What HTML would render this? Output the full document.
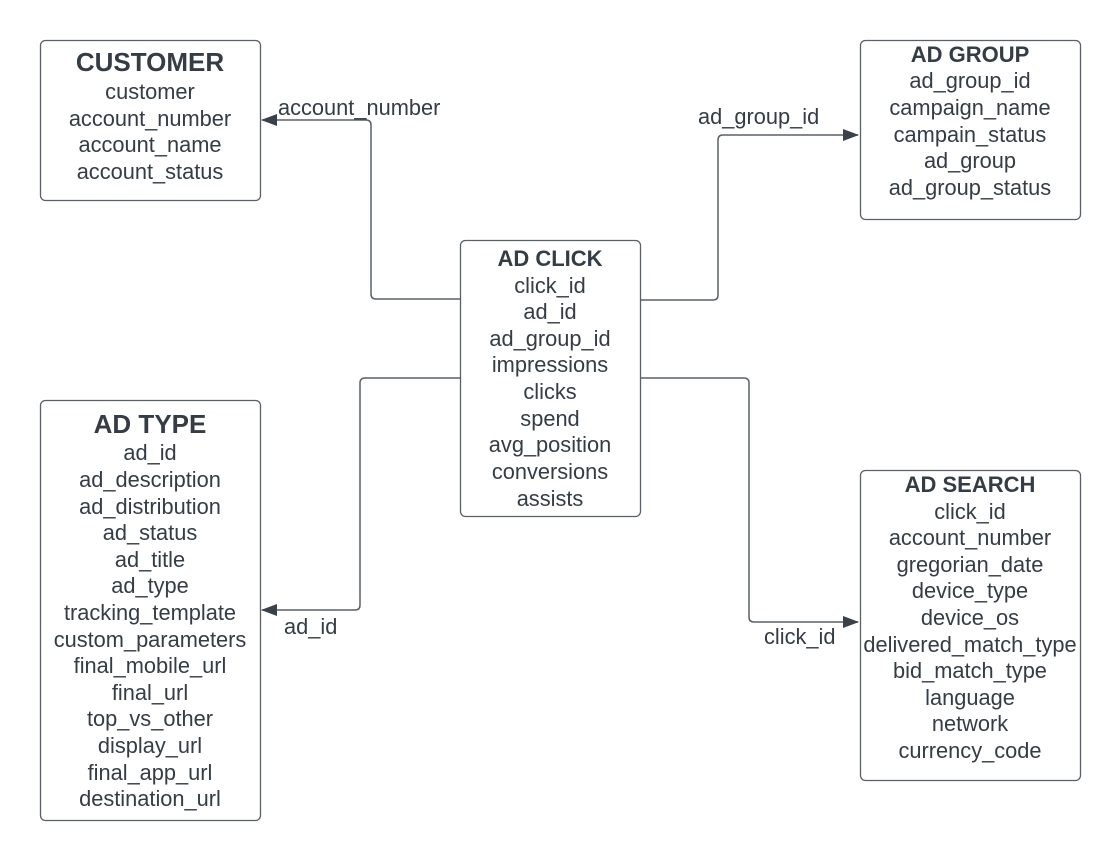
<!DOCTYPE html>
<html><head><meta charset="utf-8"><style>
html,body{margin:0;padding:0;background:#fff;}
svg{display:block;}
text{font-family:"Liberation Sans",Arial,sans-serif;fill:#343c46;}
.f{font-size:21.8px;}
.t{font-size:22px;font-weight:bold;}
.T{font-size:26px;font-weight:bold;}
</style></head><body>
<svg width="1120" height="860" viewBox="0 0 1120 860" xmlns="http://www.w3.org/2000/svg">
<defs><marker id="a" markerWidth="16" markerHeight="12" refX="15" refY="6" orient="auto" markerUnits="userSpaceOnUse"><path d="M0,0 L16,6 L0,12 Z" fill="#3a414b"/></marker></defs>
<g fill="none" stroke="#5a6068" stroke-width="1.3">
<rect x="40.5" y="40.5" width="220" height="160" rx="5"/>
<rect x="860.5" y="40.5" width="220" height="179" rx="5"/>
<rect x="460.5" y="240.5" width="180" height="276" rx="5"/>
<rect x="40.5" y="400.5" width="220" height="420" rx="5"/>
<rect x="860.5" y="470.5" width="220" height="310" rx="5"/>
</g>
<g fill="none" stroke="#5a6068" stroke-width="1.5">
<path d="M460,299 H376 Q371,299 371,294 V125 Q371,120 366,120 H262" marker-end="url(#a)"/>
<path d="M640,300 H713 Q718,300 718,295 V140 Q718,135 723,135 H858" marker-end="url(#a)"/>
<path d="M460,378 H365 Q360,378 360,383 V605 Q360,610 355,610 H262" marker-end="url(#a)"/>
<path d="M640,378 H744 Q749,378 749,383 V617 Q749,622 754,622 H858" marker-end="url(#a)"/>
</g>
<text class="f" x="278" y="115">account_number</text>
<text class="f" x="698" y="124">ad_group_id</text>
<text class="f" x="284" y="634">ad_id</text>
<text class="f" x="764" y="644">click_id</text>
<g text-anchor="middle">
<text class="T" x="150" y="71">CUSTOMER</text>
<text class="f" x="150" y="99">customer</text>
<text class="f" x="150" y="126">account_number</text>
<text class="f" x="150" y="152">account_name</text>
<text class="f" x="150" y="179">account_status</text>

<text class="t" x="970" y="62">AD GROUP</text>
<text class="f" x="970" y="88">ad_group_id</text>
<text class="f" x="970" y="115">campaign_name</text>
<text class="f" x="970" y="142">campain_status</text>
<text class="f" x="970" y="168">ad_group</text>
<text class="f" x="970" y="195">ad_group_status</text>

<text class="t" x="550" y="266">AD CLICK</text>
<text class="f" x="550" y="293">click_id</text>
<text class="f" x="550" y="319">ad_id</text>
<text class="f" x="550" y="346">ad_group_id</text>
<text class="f" x="550" y="372">impressions</text>
<text class="f" x="550" y="399">clicks</text>
<text class="f" x="550" y="426">spend</text>
<text class="f" x="550" y="452">avg_position</text>
<text class="f" x="550" y="479">conversions</text>
<text class="f" x="550" y="506">assists</text>

<text class="T" x="150" y="433">AD TYPE</text>
<text class="f" x="150" y="460">ad_id</text>
<text class="f" x="150" y="487">ad_description</text>
<text class="f" x="150" y="514">ad_distribution</text>
<text class="f" x="150" y="540">ad_status</text>
<text class="f" x="150" y="567">ad_title</text>
<text class="f" x="150" y="593">ad_type</text>
<text class="f" x="150" y="620">tracking_template</text>
<text class="f" x="150" y="647">custom_parameters</text>
<text class="f" x="150" y="673">final_mobile_url</text>
<text class="f" x="150" y="700">final_url</text>
<text class="f" x="150" y="726">top_vs_other</text>
<text class="f" x="150" y="753">display_url</text>
<text class="f" x="150" y="780">final_app_url</text>
<text class="f" x="150" y="806">destination_url</text>

<text class="t" x="970" y="492">AD SEARCH</text>
<text class="f" x="970" y="519">click_id</text>
<text class="f" x="970" y="545">account_number</text>
<text class="f" x="970" y="572">gregorian_date</text>
<text class="f" x="970" y="598">device_type</text>
<text class="f" x="970" y="625">device_os</text>
<text class="f" x="970" y="652">delivered_match_type</text>
<text class="f" x="970" y="678">bid_match_type</text>
<text class="f" x="970" y="705">language</text>
<text class="f" x="970" y="731">network</text>
<text class="f" x="970" y="758">currency_code</text>
</g>
</svg>
</body></html>
